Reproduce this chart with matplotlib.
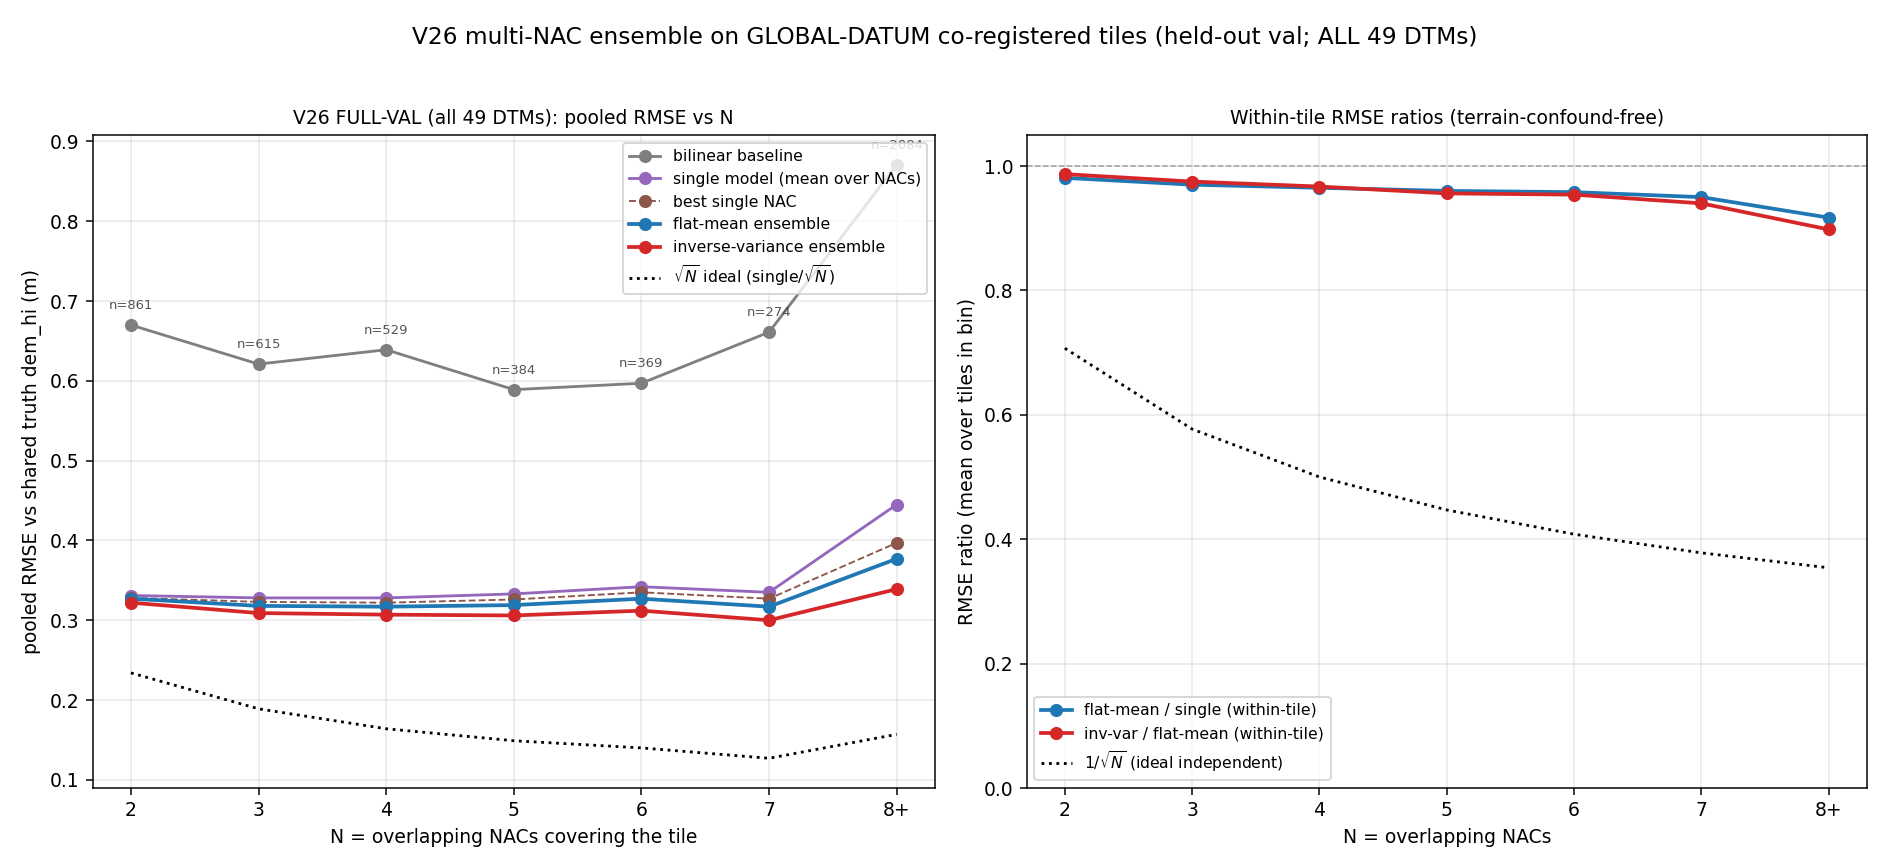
import matplotlib
matplotlib.use("Agg")
import matplotlib.pyplot as plt

N_labels = ["2", "3", "4", "5", "6", "7", "8+"]
N_pos = [2, 3, 4, 5, 6, 7, 8]
n_tiles = [861, 615, 529, 384, 369, 274, 2084]

bilinear = [0.670, 0.621, 0.639, 0.589, 0.597, 0.661, 0.871]
single_mean = [0.331, 0.328, 0.328, 0.333, 0.342, 0.335, 0.445]
best_single = [0.328, 0.323, 0.322, 0.326, 0.335, 0.327, 0.397]
flat_mean = [0.327, 0.318, 0.317, 0.319, 0.327, 0.317, 0.377]
inv_var = [0.322, 0.309, 0.307, 0.306, 0.312, 0.300, 0.339]
sqrt_ideal = [0.234, 0.189, 0.164, 0.149, 0.140, 0.127, 0.157]

ratio_flat_single = [0.981, 0.970, 0.965, 0.960, 0.958, 0.950, 0.917]
ratio_inv_flat = [0.987, 0.975, 0.967, 0.956, 0.954, 0.940, 0.898]
ideal_indep = [0.707, 0.577, 0.500, 0.447, 0.408, 0.378, 0.354]

fig = plt.figure(figsize=(14, 6.43), dpi=135)
ax1 = fig.add_axes([0.049, 0.0922, 0.4457, 0.7523])
ax2 = fig.add_axes([0.5432, 0.0922, 0.4446, 0.7523])

ax1.plot(N_pos, bilinear, "o-", color="tab:gray", lw=1.5, ms=6, label="bilinear baseline")
ax1.plot(N_pos, single_mean, "o-", color="tab:purple", lw=1.5, ms=6, label="single model (mean over NACs)")
ax1.plot(N_pos, best_single, "o--", color="tab:brown", lw=1.0, ms=6, label="best single NAC")
ax1.plot(N_pos, flat_mean, "o-", color="tab:blue", lw=2.0, ms=6, label="flat-mean ensemble")
ax1.plot(N_pos, inv_var, "o-", color="tab:red", lw=2.0, ms=6, label="inverse-variance ensemble")
ax1.plot(N_pos, sqrt_ideal, ":", color="black", lw=1.5, label=r"$\sqrt{N}$ ideal (single/$\sqrt{N}$)")
for x, y, n in zip(N_pos, bilinear, n_tiles):
    ax1.annotate(f"n={n}", (x, y), xytext=(0, 7), textcoords="offset points",
                 ha="center", va="bottom", fontsize=7, color="#444444", alpha=0.9)
ax1.set_xticks(N_pos)
ax1.set_xticklabels(N_labels)
ax1.set_xlabel("N = overlapping NACs covering the tile")
ax1.set_ylabel("pooled RMSE vs shared truth dem_hi (m)")
ax1.set_title("V26 FULL-VAL (all 49 DTMs): pooled RMSE vs N", fontsize=10)
ax1.grid(True, alpha=0.3)
ax1.legend(loc="upper right", fontsize="small")

ax2.plot(N_pos, ratio_flat_single, "o-", color="tab:blue", lw=2.0, ms=6, label="flat-mean / single (within-tile)")
ax2.plot(N_pos, ratio_inv_flat, "o-", color="tab:red", lw=2.0, ms=6, label="inv-var / flat-mean (within-tile)")
ax2.plot(N_pos, ideal_indep, ":", color="black", lw=1.5, label=r"$1/\sqrt{N}$ (ideal independent)")
ax2.axhline(1.0, color="gray", ls="--", lw=0.8, alpha=0.7)
ax2.set_ylim(0, 1.05)
ax2.set_xticks(N_pos)
ax2.set_xticklabels(N_labels)
ax2.set_xlabel("N = overlapping NACs")
ax2.set_ylabel("RMSE ratio (mean over tiles in bin)")
ax2.set_title("Within-tile RMSE ratios (terrain-confound-free)", fontsize=10)
ax2.grid(True, alpha=0.3)
ax2.legend(loc="lower left", fontsize="small")

fig.suptitle("V26 multi-NAC ensemble on GLOBAL-DATUM co-registered tiles (held-out val; ALL 49 DTMs)",
             fontsize=12.4, y=0.97)

fig.savefig("out.png", dpi=135)
